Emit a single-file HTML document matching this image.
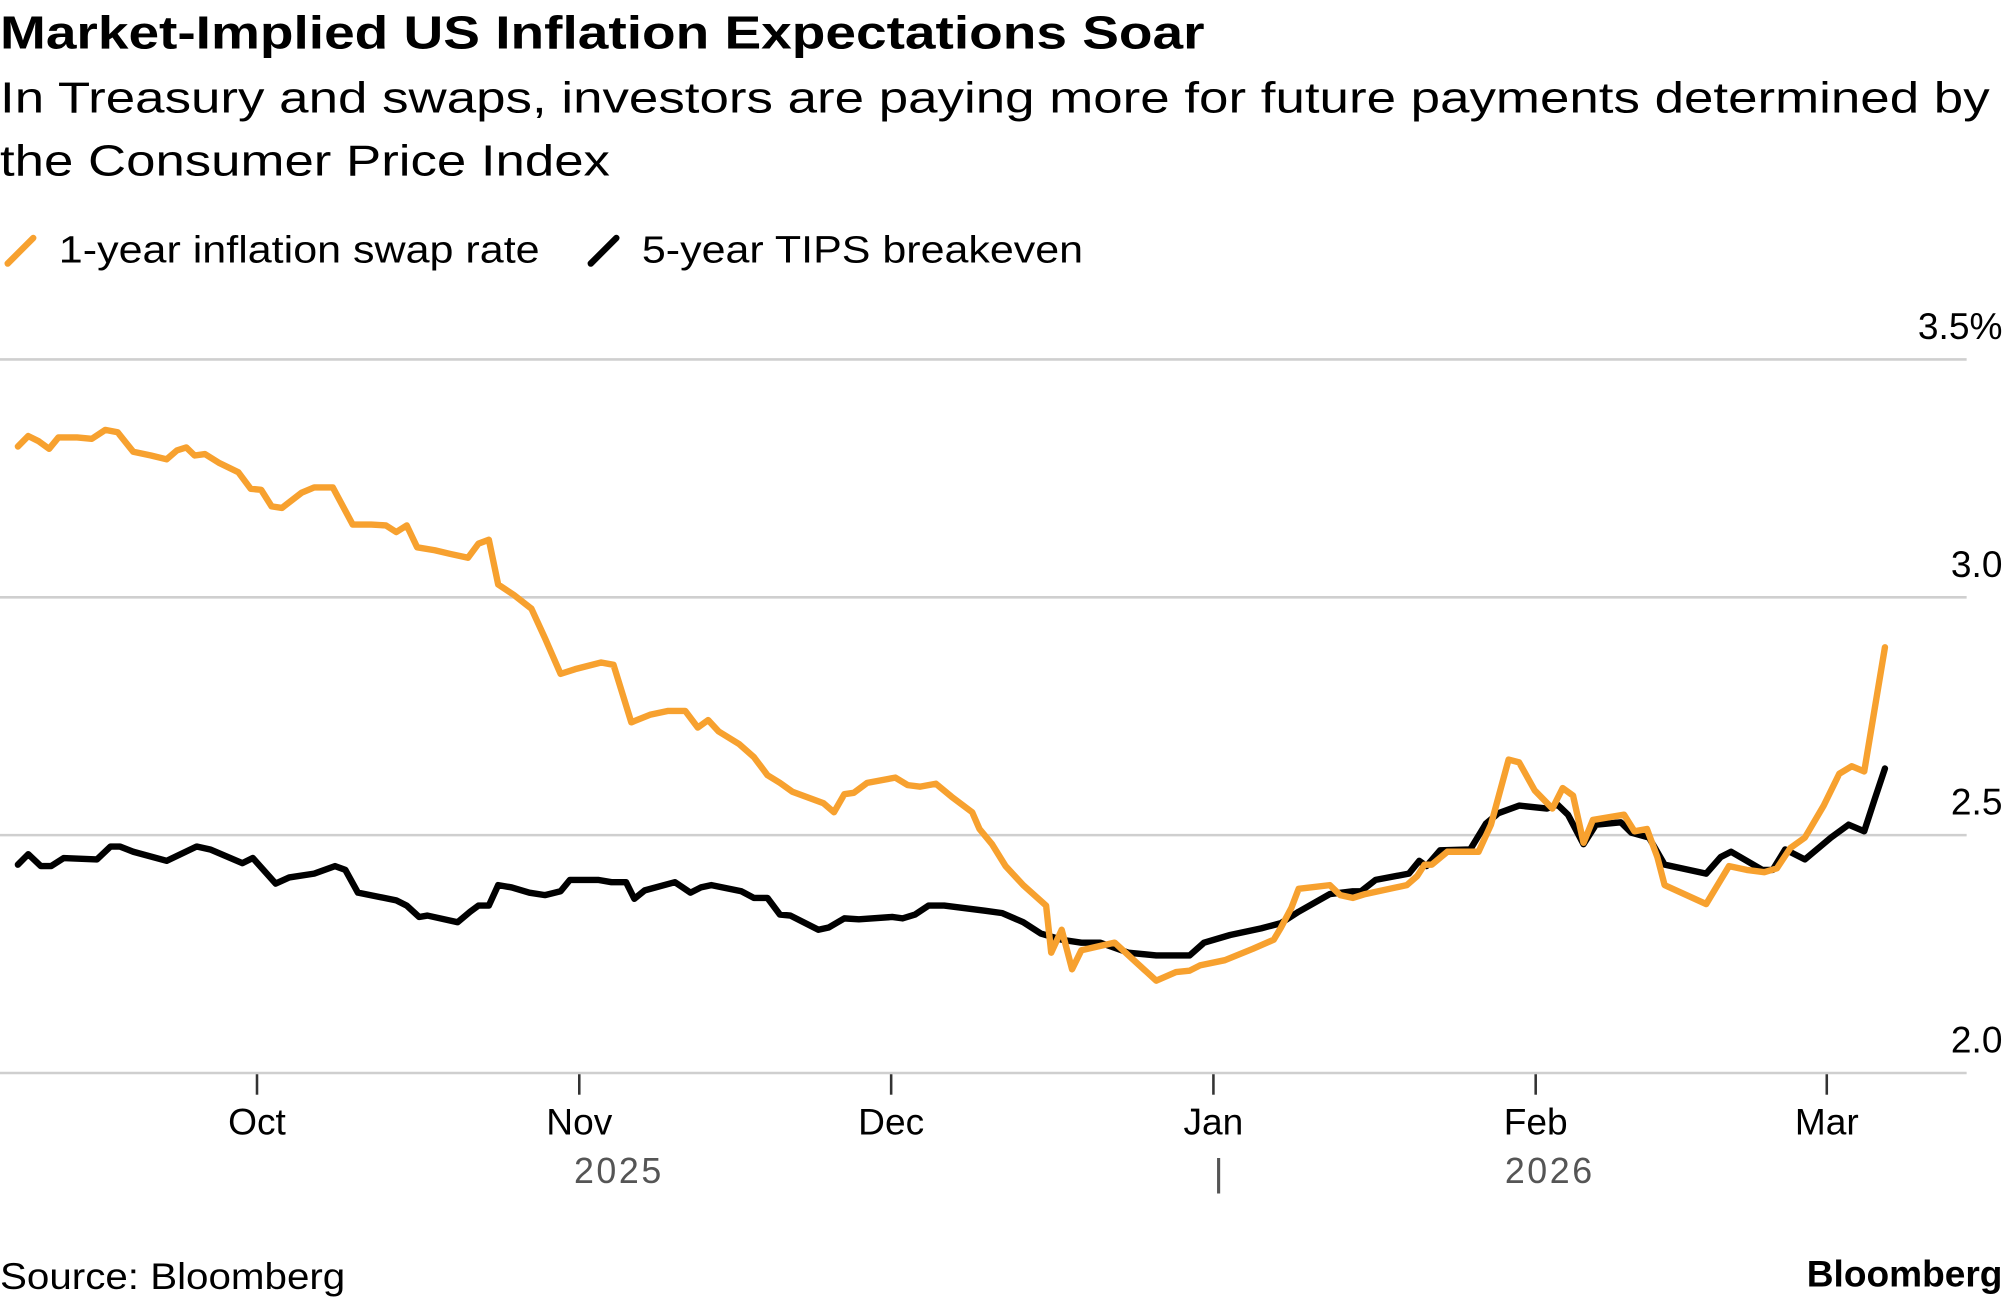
<!DOCTYPE html>
<html><head><meta charset="utf-8"><style>
html,body{margin:0;padding:0;background:#fff;}
svg{display:block;font-family:"Liberation Sans",sans-serif;}
</style></head><body>
<svg id="chart" width="2005" height="1302" viewBox="0 0 1568 1018" xmlns="http://www.w3.org/2000/svg">
<text x="0" y="38" font-size="36" font-weight="bold" textLength="942" lengthAdjust="spacingAndGlyphs">Market-Implied US Inflation Expectations Soar</text>
<text x="0" y="88" font-size="34" textLength="1556" lengthAdjust="spacingAndGlyphs">In Treasury and swaps, investors are paying more for future payments determined by</text>
<text x="0" y="137" font-size="34" textLength="477" lengthAdjust="spacingAndGlyphs">the Consumer Price Index</text>
<g>
<line x1="6" y1="206" x2="26" y2="186" stroke="#f7a12f" stroke-width="5" stroke-linecap="round"/>
<text x="46" y="205" font-size="30" textLength="376" lengthAdjust="spacingAndGlyphs">1-year inflation swap rate</text>
<line x1="462" y1="206" x2="482" y2="186" stroke="#000" stroke-width="5" stroke-linecap="round"/>
<text x="502" y="205" font-size="30" textLength="345" lengthAdjust="spacingAndGlyphs">5-year TIPS breakeven</text>
</g>
<g id="grid"></g><g id="xaxis"></g><g id="series"></g>
<text x="484" y="925" font-size="28" fill="#555" text-anchor="middle" letter-spacing="2">2025</text>
<text x="953" y="927" font-size="30" fill="#555" text-anchor="middle">|</text>
<text x="1212" y="925" font-size="28" fill="#555" text-anchor="middle" letter-spacing="2">2026</text>
<text x="0" y="1008" font-size="29" textLength="270" lengthAdjust="spacingAndGlyphs">Source: Bloomberg</text>
<text x="1566" y="1006" font-size="29" font-weight="bold" text-anchor="end">Bloomberg</text>
</svg>
<script>
// days since 2025-09-08
const swapDays=[0,1.0,2.0,3.0,3.9,5.7,7.1,8.4,9.6,11.1,12.8,14.3,15.3,16.2,17.0,18.0,19.4,21.2,22.4,23.4,24.4,25.4,27.3,28.5,30.3,32.2,34.0,35.4,36.4,37.4,38.4,40.1,41.6,43.3,44.3,45.3,46.2,47.7,49.4,50.7,52.2,53.6,56.1,57.3,59.0,60.8,62.5,64.2,65.4,66.4,67.4,69.4,70.8,72.1,73.3,74.5,77.5,78.5,79.5,80.4,81.7,84.4,85.6,86.8,88.3,89.8,91.8,92.5,93.7,95.0,96.7,98.9,99.4,100.4,101.4,102.3,105.5,107.5,109.5,111.4,112.7,113.7,116.1,118.8,120.8,121.5,122.5,123.2,126.2,127.2,128.4,129.6,133.6,134.6,135.3,136.0,137.5,140.5,141.7,143.4,144.4,145.9,147.6,148.6,149.6,150.6,151.5,154.5,155.5,156.7,157.7,158.4,162.4,164.6,166.3,168.0,169.2,170.5,171.9,173.7,175.2,176.4,177.6,179.6];
const swapValues=[3.317,3.339,3.328,3.312,3.336,3.336,3.333,3.352,3.347,3.306,3.298,3.290,3.309,3.315,3.298,3.301,3.282,3.263,3.228,3.226,3.191,3.188,3.220,3.231,3.231,3.153,3.153,3.151,3.137,3.151,3.105,3.099,3.091,3.083,3.113,3.121,3.027,3.005,2.976,2.914,2.839,2.849,2.863,2.858,2.737,2.753,2.761,2.761,2.726,2.742,2.718,2.691,2.664,2.626,2.610,2.591,2.567,2.548,2.586,2.589,2.610,2.621,2.605,2.602,2.608,2.581,2.548,2.513,2.481,2.435,2.395,2.352,2.253,2.301,2.218,2.258,2.274,2.234,2.194,2.212,2.215,2.226,2.237,2.261,2.280,2.306,2.347,2.387,2.395,2.374,2.368,2.376,2.395,2.414,2.438,2.438,2.465,2.465,2.522,2.659,2.653,2.594,2.556,2.599,2.583,2.484,2.532,2.543,2.508,2.513,2.454,2.395,2.355,2.435,2.427,2.422,2.430,2.473,2.495,2.562,2.629,2.645,2.634,2.895];
const tipsDays=[0,1.0,2.2,3.2,4.4,7.6,8.9,9.8,11.1,14.3,17.2,18.5,21.6,22.6,24.8,26.1,28.5,30.5,31.5,32.7,36.4,37.4,38.6,39.4,42.3,43.5,44.3,45.3,46.2,47.5,49.2,50.7,52.2,53.1,55.8,57.1,58.5,59.3,60.3,63.2,64.7,65.7,66.7,69.6,70.8,72.1,73.3,74.3,77.0,78.0,79.5,80.9,84.1,85.1,86.3,87.6,89.1,93.0,94.7,96.7,98.4,100.4,102.3,104.1,106.8,109.5,112.7,114.1,116.6,119.6,121.5,123.2,126.2,128.4,129.2,130.6,133.8,134.8,135.5,136.8,139.7,141.2,142.4,144.4,147.1,148.1,149.1,150.6,151.8,154.2,155.2,156.9,158.4,162.4,163.8,164.8,167.8,168.8,170.0,171.9,174.4,176.1,177.6,178.6,179.6];
const tipsValues=[2.438,2.460,2.435,2.435,2.452,2.449,2.476,2.476,2.465,2.446,2.476,2.470,2.441,2.452,2.398,2.411,2.419,2.435,2.427,2.379,2.363,2.352,2.328,2.331,2.317,2.339,2.352,2.352,2.395,2.390,2.379,2.374,2.382,2.406,2.406,2.401,2.401,2.366,2.384,2.401,2.379,2.390,2.395,2.382,2.368,2.368,2.333,2.331,2.301,2.306,2.325,2.323,2.328,2.325,2.333,2.352,2.352,2.341,2.336,2.317,2.293,2.280,2.274,2.274,2.253,2.247,2.247,2.274,2.290,2.304,2.315,2.339,2.376,2.382,2.382,2.406,2.419,2.446,2.435,2.468,2.470,2.524,2.546,2.562,2.556,2.564,2.543,2.481,2.522,2.527,2.505,2.495,2.438,2.419,2.454,2.465,2.427,2.427,2.470,2.449,2.495,2.522,2.508,2.575,2.640];
const yTicks=[2.0,2.5,3.0,3.5];
const yTickLabels=["2.0","2.5","3.0","3.5%"];
const monthDays=[23,54,84,115,146,174];
const monthLabels=["Oct","Nov","Dec","Jan","Feb","Mar"];

const NS="http://www.w3.org/2000/svg";
function xScale(d){return 14+d*8.13;}
function yScale(v){return 839-(v-2)*372;}
function mk(tag,attrs,parent){const e=document.createElementNS(NS,tag);for(const k in attrs)e.setAttribute(k,attrs[k]);parent.appendChild(e);return e;}
const grid=document.getElementById('grid');
yTicks.forEach((t,i)=>{
  const l=mk('line',{x1:0,x2:1538,y1:yScale(t),y2:yScale(t),stroke:'#cfcfcf','stroke-width':2},grid);
  
  
  const tx=mk('text',{x:1566,y:yScale(t)-16,'font-size':29,'text-anchor':'end'},grid);
  tx.textContent=yTickLabels[i];
  
  
});
const xa=document.getElementById('xaxis');
monthDays.forEach((d,i)=>{
  const x=xScale(d);
  const t=mk('line',{x1:x,x2:x,y1:840,y2:856,stroke:'#333','stroke-width':2},xa);
  
  
  const tx=mk('text',{x:x,y:887,'font-size':29,'text-anchor':'middle'},xa);
  tx.textContent=monthLabels[i];
  
  
});
const s=document.getElementById('series');
function line(days,vals,color,name){
  const d=days.map((dd,i)=>(i?'L':'M')+xScale(dd).toFixed(1)+','+yScale(vals[i]).toFixed(1)).join('');
  const p=mk('path',{d:d,fill:'none',stroke:color,'stroke-width':5,'stroke-linejoin':'round','stroke-linecap':'round'},s);
  
  
}
line(tipsDays,tipsValues,'#000','tips-breakeven-line');
line(swapDays,swapValues,'#f7a12f','inflation-swap-line');
</script>
</body></html>
